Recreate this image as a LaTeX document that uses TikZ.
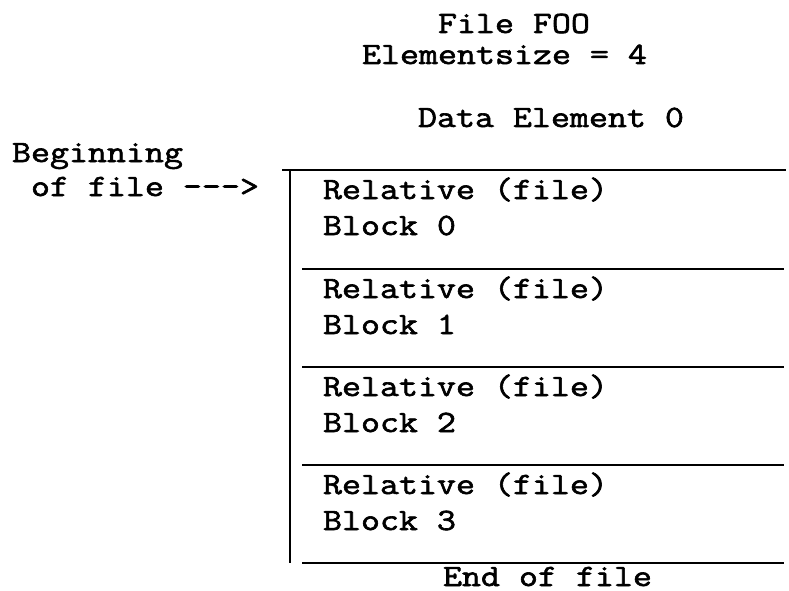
\documentclass[tikz,border=0pt]{standalone}
\usepackage{fontspec}
\newfontfamily\typefont[FakeStretch=1.19,FakeBold=2]{Latin Modern Mono}
\begin{document}
\begin{tikzpicture}[x=1pt,y=-1pt,
  lbl/.style={anchor=base west,inner sep=0pt,outer sep=0pt,
    font=\fontsize{31}{34}\selectfont\typefont},
  rule/.style={line width=2pt},
  edge/.style={line width=2.5pt}]
\useasboundingbox (0,0) rectangle (789,591);

% heading
\node[lbl] (title) at (438,33) {File FOO};
\node[lbl] (esize) at (362,64) {Elementsize = 4};
\node[lbl] (delem) at (418,127) {Data Element 0};

% pointer to the start of the file
\node[lbl] (begin1) at (12,162) {Beginning};
\node[lbl] (begin2) at (12,196) {\ of file --->};

% block boundaries
\coordinate (t0) at (282,170); \coordinate (t1) at (786,170);
\draw[rule] (t0) -- (t1);
\foreach \i/\y in {1/269,2/367,3/465,4/563}{
  \coordinate (l\i) at (302,\y);
  \coordinate (r\i) at (784,\y);
  \draw[rule] (l\i) -- (r\i);
}
\coordinate (v0) at (290,170); \coordinate (v1) at (290,563);
\draw[edge] (v0) -- (v1);

% block labels
\foreach \i/\y in {0/170,1/269,2/367,3/465}{
  \node[lbl] (rel\i) at (323,\y+29) {Relative (file)};
  \node[lbl] (blk\i) at (323,\y+65) {Block \i};
}

\node[lbl] (eof) at (443,586) {End of file};
\end{tikzpicture}
\end{document}
